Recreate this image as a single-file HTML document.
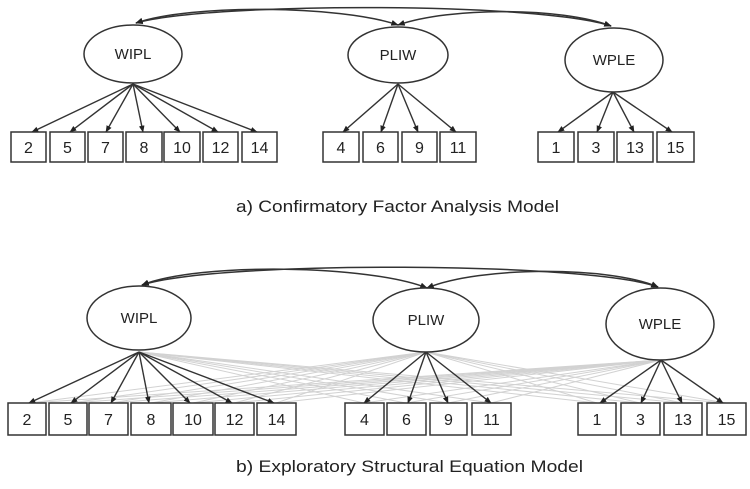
<!DOCTYPE html>
<html><head><meta charset="utf-8"><style>
html,body{margin:0;padding:0;background:#fff}
svg{display:block}
text{font-family:"Liberation Sans",sans-serif;fill:#222}
</style></head><body>
<svg width="750" height="489" viewBox="0 0 750 489" xmlns="http://www.w3.org/2000/svg">
<defs>
<marker id="a" viewBox="0 0 10 10" refX="9" refY="5" markerWidth="5" markerHeight="5" orient="auto-start-reverse"><path d="M0,1 L10,5 L0,9 z" fill="#222"/></marker>
</defs>

<!-- ===== TOP: CFA ===== -->
<g fill="none" stroke="#333" stroke-width="1.5">
<path d="M136,23 C190,4 340,5 398,25" marker-start="url(#a)" marker-end="url(#a)"/>
<path d="M136,23 C210,2 540,2 611,26" marker-start="url(#a)" marker-end="url(#a)"/>
<path d="M398,25 C450,7 560,7 611,26" marker-start="url(#a)" marker-end="url(#a)"/>
<ellipse cx="133" cy="54" rx="49" ry="29"/>
<ellipse cx="398" cy="55" rx="50" ry="28"/>
<ellipse cx="614" cy="60" rx="49" ry="32"/>
</g>
<g stroke="#333" stroke-width="1.4" marker-end="url(#a)">
<line x1="133" y1="84" x2="32" y2="132"/>
<line x1="133" y1="84" x2="70" y2="132"/>
<line x1="133" y1="84" x2="106" y2="132"/>
<line x1="133" y1="84" x2="143" y2="132"/>
<line x1="133" y1="84" x2="180" y2="132"/>
<line x1="133" y1="84" x2="218" y2="132"/>
<line x1="133" y1="84" x2="257" y2="132"/>
<line x1="398" y1="84" x2="343" y2="132"/>
<line x1="398" y1="84" x2="381" y2="132"/>
<line x1="398" y1="84" x2="418" y2="132"/>
<line x1="398" y1="84" x2="456" y2="132"/>
<line x1="613" y1="92" x2="558" y2="132"/>
<line x1="613" y1="92" x2="597" y2="132"/>
<line x1="613" y1="92" x2="634" y2="132"/>
<line x1="613" y1="92" x2="672" y2="132"/>
</g>
<g fill="#fff" stroke="#333" stroke-width="1.5">
<rect x="11" y="132" width="35" height="30"/><rect x="50" y="132" width="35" height="30"/>
<rect x="88" y="132" width="35" height="30"/><rect x="126" y="132" width="36" height="30"/>
<rect x="164" y="132" width="36" height="30"/><rect x="203" y="132" width="35" height="30"/>
<rect x="242" y="132" width="35" height="30"/>
<rect x="323" y="132" width="36" height="30"/><rect x="363" y="132" width="35" height="30"/>
<rect x="402" y="132" width="35" height="30"/><rect x="440" y="132" width="36" height="30"/>
<rect x="538" y="132" width="36" height="30"/><rect x="578" y="132" width="36" height="30"/>
<rect x="617" y="132" width="36" height="30"/><rect x="657" y="132" width="37" height="30"/>
</g>
<g font-size="15" text-anchor="middle">
<text x="133" y="59">WIPL</text><text x="398" y="60">PLIW</text><text x="614" y="65">WPLE</text>
</g>
<g font-size="16" text-anchor="middle">
<text x="28.5" y="153">2</text><text x="67.5" y="153">5</text><text x="105.5" y="153">7</text>
<text x="144" y="153">8</text><text x="182" y="153">10</text><text x="220.5" y="153">12</text>
<text x="259.5" y="153">14</text><text x="341" y="153">4</text><text x="380.5" y="153">6</text>
<text x="419.5" y="153">9</text><text x="458" y="153">11</text><text x="556" y="153">1</text>
<text x="596" y="153">3</text><text x="635" y="153">13</text><text x="675.5" y="153">15</text>
</g>
<text x="236" y="212" font-size="17" textLength="323" lengthAdjust="spacingAndGlyphs">a) Confirmatory Factor Analysis Model</text>

<!-- ===== BOTTOM: ESEM ===== -->
<g stroke="#d2d2d2" stroke-width="1">
<line x1="139" y1="352" x2="364" y2="403"/><line x1="139" y1="352" x2="406" y2="403"/>
<line x1="139" y1="352" x2="448" y2="403"/><line x1="139" y1="352" x2="491" y2="403"/>
<line x1="139" y1="352" x2="597" y2="403"/><line x1="139" y1="352" x2="640" y2="403"/>
<line x1="139" y1="352" x2="683" y2="403"/><line x1="139" y1="352" x2="726" y2="403"/>
<line x1="426" y1="352" x2="30" y2="403"/><line x1="426" y1="352" x2="71" y2="403"/>
<line x1="426" y1="352" x2="111" y2="403"/><line x1="426" y1="352" x2="151" y2="403"/>
<line x1="426" y1="352" x2="193" y2="403"/><line x1="426" y1="352" x2="234" y2="403"/>
<line x1="426" y1="352" x2="276" y2="403"/>
<line x1="426" y1="352" x2="597" y2="403"/><line x1="426" y1="352" x2="640" y2="403"/>
<line x1="426" y1="352" x2="683" y2="403"/><line x1="426" y1="352" x2="726" y2="403"/>
<line x1="661" y1="360" x2="30" y2="403"/><line x1="661" y1="360" x2="71" y2="403"/>
<line x1="661" y1="360" x2="111" y2="403"/><line x1="661" y1="360" x2="151" y2="403"/>
<line x1="661" y1="360" x2="193" y2="403"/><line x1="661" y1="360" x2="234" y2="403"/>
<line x1="661" y1="360" x2="276" y2="403"/>
<line x1="661" y1="360" x2="364" y2="403"/><line x1="661" y1="360" x2="406" y2="403"/>
<line x1="661" y1="360" x2="448" y2="403"/><line x1="661" y1="360" x2="491" y2="403"/>
</g>
<g fill="none" stroke="#333" stroke-width="1.5">
<path d="M142,285 C200,262 370,265 427,288" marker-start="url(#a)" marker-end="url(#a)"/>
<path d="M142,285 C220,260 590,262 658,287" marker-start="url(#a)" marker-end="url(#a)"/>
<path d="M427,288 C480,266 610,266 658,287" marker-start="url(#a)" marker-end="url(#a)"/>
<ellipse cx="139" cy="318" rx="52" ry="32"/>
<ellipse cx="426" cy="320" rx="53" ry="32"/>
<ellipse cx="660" cy="324" rx="54" ry="36"/>
</g>
<g stroke="#333" stroke-width="1.4" marker-end="url(#a)">
<line x1="139" y1="352" x2="29" y2="403"/><line x1="139" y1="352" x2="71" y2="403"/>
<line x1="139" y1="352" x2="111" y2="403"/><line x1="139" y1="352" x2="149" y2="403"/>
<line x1="139" y1="352" x2="190" y2="403"/><line x1="139" y1="352" x2="232" y2="403"/>
<line x1="139" y1="352" x2="274" y2="403"/>
<line x1="426" y1="352" x2="364" y2="403"/><line x1="426" y1="352" x2="408" y2="403"/>
<line x1="426" y1="352" x2="448" y2="403"/><line x1="426" y1="352" x2="491" y2="403"/>
<line x1="661" y1="360" x2="600" y2="403"/><line x1="661" y1="360" x2="641" y2="403"/>
<line x1="661" y1="360" x2="682" y2="403"/><line x1="661" y1="360" x2="723" y2="403"/>
</g>
<g fill="#fff" stroke="#333" stroke-width="1.5">
<rect x="8" y="403" width="38" height="32"/><rect x="49" y="403" width="38" height="32"/>
<rect x="89" y="403" width="39" height="32"/><rect x="131" y="403" width="40" height="32"/>
<rect x="173" y="403" width="40" height="32"/><rect x="215" y="403" width="39" height="32"/>
<rect x="257" y="403" width="39" height="32"/>
<rect x="345" y="403" width="39" height="32"/><rect x="387" y="403" width="39" height="32"/>
<rect x="430" y="403" width="37" height="32"/><rect x="472" y="403" width="39" height="32"/>
<rect x="578" y="403" width="38" height="32"/><rect x="621" y="403" width="39" height="32"/>
<rect x="664" y="403" width="38" height="32"/><rect x="707" y="403" width="39" height="32"/>
</g>
<g font-size="15" text-anchor="middle">
<text x="139" y="323">WIPL</text><text x="426" y="325">PLIW</text><text x="660" y="329">WPLE</text>
</g>
<g font-size="16" text-anchor="middle">
<text x="27" y="425">2</text><text x="68" y="425">5</text><text x="108.5" y="425">7</text>
<text x="151" y="425">8</text><text x="193" y="425">10</text><text x="234.5" y="425">12</text>
<text x="276.5" y="425">14</text><text x="364.5" y="425">4</text><text x="406.5" y="425">6</text>
<text x="448.5" y="425">9</text><text x="491.5" y="425">11</text><text x="597" y="425">1</text>
<text x="640.5" y="425">3</text><text x="683" y="425">13</text><text x="726.5" y="425">15</text>
</g>
<text x="236" y="472" font-size="17" textLength="347" lengthAdjust="spacingAndGlyphs">b) Exploratory Structural Equation Model</text>
</svg>
</body></html>
